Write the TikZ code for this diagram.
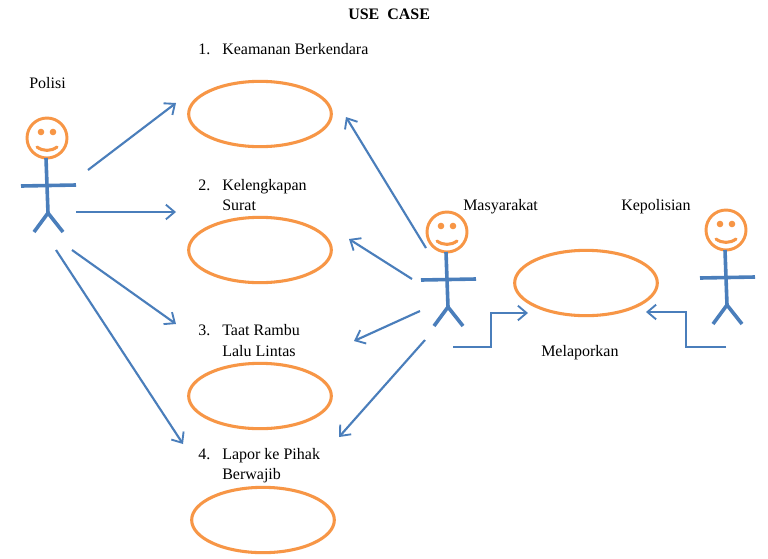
\documentclass[tikz,border=0pt]{standalone}
\usepackage{fontspec}
\setmainfont{Liberation Serif}
\usetikzlibrary{arrows.meta,shapes.geometric}
\definecolor{uorange}{HTML}{F79646}
\definecolor{ublue}{HTML}{4A7EBB}
\tikzset{
  x=0.75pt,y=-0.75pt,
  usecase/.style={draw=uorange,line width=2.3pt,ellipse,minimum width=107pt,minimum height=49pt,inner sep=0pt},
  flow/.style={draw=ublue,line width=1.6pt,-{Straight Barb[length=6.5pt,width=11pt,line width=1.4pt]}},
  label/.style={anchor=base west,inner sep=0pt,font=\fontsize{12pt}{14pt}\selectfont},
  limb/.style={draw=ublue,line width=2.7pt},
  pics/actor/.style={code={
    \draw[uorange,line width=2.2pt] (0,0) circle[radius=20];
    \fill[uorange] (-6,-6) circle[radius=3.3] (6,-6) circle[radius=3.3];
    \draw[uorange,line width=2.3pt,line cap=round] (-10,9) .. controls (-4,13.5) and (4,13.5) .. (10,9);
    \draw[limb] (-1,20) -- (1,75);
    \draw[limb] (-26,48) -- (29,47);
    \draw[limb] (-13,94) -- (1,75) -- (16,94);
  }}
}
\begin{document}
\begin{tikzpicture}
\useasboundingbox (0,0) rectangle (768,558);
\fill[white] (0,0) rectangle (768,558);
% title and labels
\node[label,font=\fontsize{12pt}{14pt}\selectfont\bfseries] (title) at (348,19) {USE\ \ CASE};
\node[label] (n1) at (198,54) {1.};
\node[label] (t1) at (222,54) {Keamanan Berkendara};
\node[label] (n2) at (198,190) {2.};
\node[label] (t2a) at (222,190) {Kelengkapan};
\node[label] (t2b) at (222,210) {Surat};
\node[label] (n3) at (198,335) {3.};
\node[label] (t3a) at (222,335) {Taat Rambu};
\node[label] (t3b) at (222,356) {Lalu Lintas};
\node[label] (n4) at (198,459) {4.};
\node[label] (t4a) at (222,459) {Lapor ke Pihak};
\node[label] (t4b) at (222,479) {Berwajib};
\node[label] (polisi) at (29,88) {Polisi};
\node[label] (masy) at (463,210) {Masyarakat};
\node[label] (kepo) at (621,210) {Kepolisian};
\node[label] (mel) at (541,356) {Melaporkan};
% use cases
\node[usecase] (u1) at (260,114) {};
\node[usecase] (u2) at (260,250) {};
\node[usecase] (u3) at (260,396) {};
\node[usecase] (u4) at (263,520) {};
\node[usecase] (u5) at (586,283) {};
% actors
\pic at (47,138) {actor};
\pic at (447,232) {actor};
\pic at (726,230) {actor};
% connector ends
\coordinate (a1) at (88,170);   \coordinate (b1) at (176,103);
\coordinate (a2) at (76,212);   \coordinate (b2) at (176,212);
\coordinate (a3) at (72,250);   \coordinate (b3) at (176,324);
\coordinate (a4) at (56,250);   \coordinate (b4) at (183,444);
\coordinate (c1) at (426,248);  \coordinate (d1) at (346,117);
\coordinate (c2) at (412,279);  \coordinate (d2) at (349,239);
\coordinate (c3) at (420,311);  \coordinate (d3) at (354,341);
\coordinate (c4) at (425,340);  \coordinate (d4) at (339,437);
\coordinate (e1) at (453,347);  \coordinate (e2) at (491,347);
\coordinate (e3) at (491,313);  \coordinate (e4) at (528,313);
\coordinate (f1) at (726,347);  \coordinate (f2) at (686,347);
\coordinate (f3) at (686,312);  \coordinate (f4) at (646,312);
% connectors
\draw[flow] (a1) -- (b1);
\draw[flow] (a2) -- (b2);
\draw[flow] (a3) -- (b3);
\draw[flow] (a4) -- (b4);
\draw[flow] (c1) -- (d1);
\draw[flow] (c2) -- (d2);
\draw[flow] (c3) -- (d3);
\draw[flow] (c4) -- (d4);
\draw[flow] (e1) -- (e2) -- (e3) -- (e4);
\draw[flow] (f1) -- (f2) -- (f3) -- (f4);
\end{tikzpicture}
\end{document}
